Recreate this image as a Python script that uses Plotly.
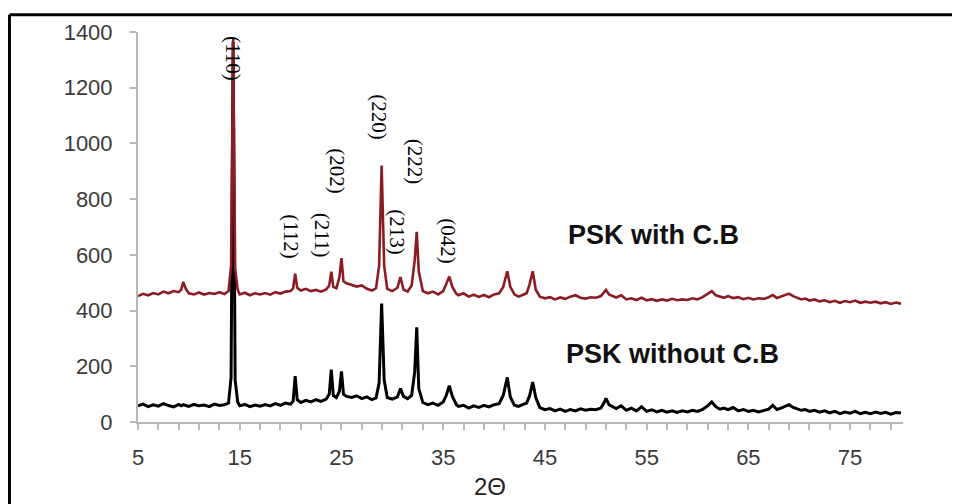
import plotly.graph_objects as go

# 2-theta sampling positions (degrees)
two_theta = [
    5.0, 5.5, 6.0, 6.5, 7.0, 7.5, 8.0, 8.5, 9.0, 9.25,
    9.45, 9.7, 10.0, 10.5, 11.0, 11.5, 12.0, 12.5, 13.0, 13.5,
    13.9, 14.15, 14.35, 14.55, 14.8, 15.0, 15.5, 16.0, 16.5, 17.0,
    17.5, 18.0, 18.5, 19.0, 19.5, 20.0, 20.25, 20.45, 20.65, 21.0,
    21.5, 22.0, 22.5, 23.0, 23.5, 23.8, 24.0, 24.2, 24.5, 24.8,
    25.0, 25.2, 25.5, 26.0, 26.5, 27.0, 27.5, 28.0, 28.4, 28.7,
    28.95, 29.2, 29.5, 30.0, 30.5, 30.8, 31.1, 31.5, 31.9, 32.2,
    32.4, 32.6, 33.0, 33.5, 34.0, 34.5, 35.0, 35.3, 35.6, 35.9,
    36.3, 36.5, 37.0, 37.5, 38.0, 38.5, 39.0, 39.5, 40.0, 40.5,
    40.9, 41.3, 41.6, 42.0, 42.4, 42.8, 43.2, 43.5, 43.8, 44.1,
    44.5, 45.0, 45.5, 46.0, 46.5, 47.0, 47.5, 48.0, 48.5, 49.0,
    49.5, 50.0, 50.5, 50.8, 51.0, 51.3, 51.7, 52.0, 52.5, 53.0,
    53.5, 54.0, 54.5, 55.0, 55.5, 56.0, 56.5, 57.0, 57.5, 58.0,
    58.5, 59.0, 59.5, 60.0, 60.5, 61.0, 61.4, 61.8, 62.2, 62.6,
    63.0, 63.5, 64.0, 64.5, 65.0, 65.5, 66.0, 66.5, 67.0, 67.4,
    67.8, 68.2, 68.6, 69.0, 69.4, 69.8, 70.2, 70.6, 71.0, 71.5,
    72.0, 72.5, 73.0, 73.5, 74.0, 74.5, 75.0, 75.5, 76.0, 76.5,
    77.0, 77.5, 78.0, 78.5, 79.0, 79.5, 80.0,
]

# PSK without carbon black (intensity, counts)
psk_without_cb = [
    58, 64, 55, 62, 57, 66, 59, 54, 63, 58,
    62, 60, 56, 63, 58, 61, 55, 64, 59, 62,
    68, 160, 1365, 150, 72, 58, 63, 55, 61, 57,
    63, 58, 66, 60, 68, 64, 75, 165, 80, 70,
    78, 72, 80, 74, 82, 100, 188, 95, 88, 110,
    182, 100, 92, 88, 94, 84, 90, 80, 86, 140,
    425, 150, 88, 82, 90, 120, 92, 84, 95, 180,
    340, 120, 70, 62, 68, 60, 72, 95, 130, 92,
    62, 56, 60, 50, 58, 52, 60, 54, 62, 66,
    95, 160, 90, 60, 56, 62, 68, 95, 143, 88,
    52, 44, 48, 40, 46, 38, 45, 40, 47, 42,
    46, 44, 50, 68, 85, 62, 55, 48, 58, 42,
    50, 40, 55, 38, 44, 36, 42, 35, 40, 34,
    40, 36, 42, 38, 45, 58, 72, 55, 46, 50,
    44, 52, 40, 45, 38, 42, 36, 40, 46, 60,
    45, 50, 55, 62, 52, 48, 42, 45, 38, 42,
    35, 40, 33, 38, 30, 36, 32, 38, 30, 35,
    30, 36, 31, 35, 28, 34, 32,
]

# PSK with carbon black (intensity, counts)
psk_with_cb = [
    452, 460, 455, 463, 458, 468, 462, 470, 466, 475,
    503, 478, 462, 458, 465, 457, 463, 460, 466, 459,
    470, 560, 1375, 550, 475, 458, 464, 455, 462, 458,
    463, 457, 466, 461, 468, 470, 480, 532, 482, 472,
    478, 470, 474, 468, 476, 490, 540, 485, 480, 520,
    588, 505, 498, 492, 486, 490, 478, 472, 480, 560,
    921, 560, 478, 470, 482, 520, 475, 468, 490, 580,
    683, 540, 470, 462, 468, 458, 470, 495, 522, 485,
    460, 455, 462, 450, 457, 449, 456, 448, 458, 462,
    485, 541, 485, 458, 450, 456, 462, 495, 541, 475,
    450, 444, 448, 440, 447, 442, 450, 455, 446, 443,
    448, 446, 452, 465, 474, 458, 452, 447, 455, 440,
    444, 438, 446, 437, 441, 435, 440, 436, 442, 437,
    440, 438, 444, 440, 448, 460, 470, 455, 450, 446,
    452, 445, 448, 441, 446, 440, 444, 442, 448, 456,
    445, 450, 455, 461, 452, 447, 440, 443, 436, 440,
    433, 437, 430, 435, 428, 434, 430, 436, 428, 432,
    428, 432, 426, 430, 424, 429, 425,
]

# Miller index labels and their positions (2theta, intensity)
peak_labels = ["(110)", "(112)", "(211)", "(202)", "(220)", "(213)", "(222)", "(042)"]
peak_label_x = [14.36, 20.1, 23.1, 24.6, 28.7, 30.5, 32.3, 35.4]
peak_label_y = [1306, 665, 672, 899, 1094, 680, 935, 648]

series_names = ["PSK without C.B", "PSK with C.B"]
series_label_x = [57.5, 55.7]
series_label_y = [245, 670]

x_tick_vals = [5, 15, 25, 35, 45, 55, 65, 75]
y_tick_vals = [0, 200, 400, 600, 800, 1000, 1200, 1400]

fig = go.Figure()
fig.add_trace(go.Scatter(x=two_theta, y=psk_without_cb, mode="lines",
                         line=dict(color="#000000", width=3), name=series_names[0]))
fig.add_trace(go.Scatter(x=two_theta, y=psk_with_cb, mode="lines",
                         line=dict(color="#8c1c24", width=2.6), name=series_names[1]))

for t, xv, yv in zip(peak_labels, peak_label_x, peak_label_y):
    fig.add_annotation(x=xv, y=yv, text=t, showarrow=False, textangle=90,
                       font=dict(family="Liberation Serif", size=21, color="#000000"))

for t, xv, yv in zip(series_names, series_label_x, series_label_y):
    fig.add_annotation(x=xv, y=yv, text="<b>" + t + "</b>", showarrow=False,
                       font=dict(family="Liberation Sans", size=27, color="#111111"))

# axis title "2Θ"
fig.add_annotation(x=0.46, y=-0.165, xref="paper", yref="paper", text="2Θ", showarrow=False,
                   xanchor="center", yanchor="middle",
                   font=dict(family="Liberation Sans", size=24, color="#222222"))

# frame (top and left edges of the picture)
fig.add_shape(type="line", xref="paper", yref="paper", x0=-0.168, x1=1.1, y0=1.044, y1=1.044,
              line=dict(color="#000000", width=3))
fig.add_shape(type="line", xref="paper", yref="paper", x0=-0.168, x1=-0.168, y0=1.044, y1=-0.25,
              line=dict(color="#000000", width=3))

fig.update_layout(
    width=960, height=504,
    margin=dict(l=130, r=65, t=19, b=90),
    paper_bgcolor="white", plot_bgcolor="white",
    showlegend=False,
    xaxis=dict(range=[5, 80.2], tickvals=x_tick_vals, showgrid=False, zeroline=False,
               showline=True, linecolor="#b8b8b8", linewidth=2,
               ticks="outside", ticklen=6, tickcolor="#b8b8b8", tickwidth=1.5,
               minor=dict(tick0=5, dtick=2, ticks="outside", ticklen=6, tickcolor="#b8b8b8", tickwidth=1.5),
               ticklabelstandoff=9,
               tickfont=dict(family="Liberation Sans", size=22, color="#3a3a3a")),
    yaxis=dict(range=[0, 1400], tickvals=y_tick_vals, showgrid=False, zeroline=False,
               showline=True, linecolor="#b8b8b8", linewidth=2,
               ticks="outside", ticklen=6, tickcolor="#b8b8b8", tickwidth=1.5,
               ticklabelstandoff=13,
               tickfont=dict(family="Liberation Sans", size=22, color="#3a3a3a")),
)

fig.write_html("out.html")
